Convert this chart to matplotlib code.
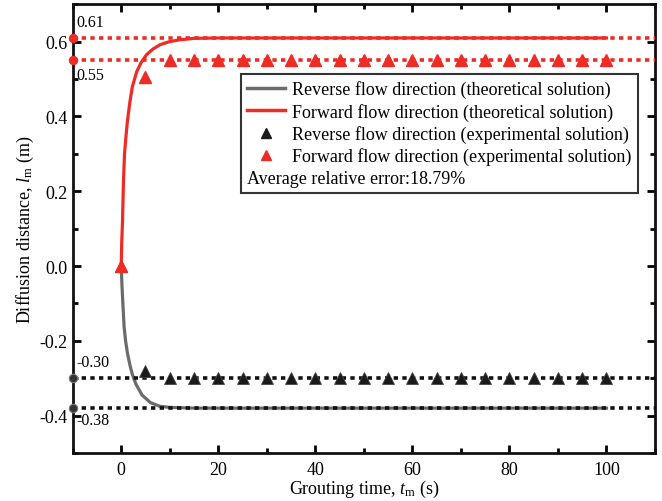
import matplotlib
matplotlib.use("Agg")
import matplotlib.pyplot as plt
from matplotlib.lines import Line2D
from matplotlib.ticker import MultipleLocator, FormatStrFormatter

plt.rcParams['font.family'] = ['Liberation Serif', 'DejaVu Serif']
plt.rcParams['mathtext.fontset'] = 'custom'
plt.rcParams['mathtext.rm'] = 'Liberation Serif'
plt.rcParams['mathtext.it'] = 'Liberation Serif:italic'
plt.rcParams['axes.unicode_minus'] = False

# ---- data ----
t_forward_theory = [0, 0.1, 0.27, 0.45, 0.68, 1.0, 1.3, 1.8, 2.3, 3.2, 4.1, 5.2, 6.5, 8.0, 9.9, 12, 15, 20, 30, 50, 100]
l_forward_theory = [0, 0.06, 0.12, 0.22, 0.30, 0.35, 0.39, 0.44, 0.48, 0.52, 0.544, 0.565, 0.58, 0.592, 0.60, 0.605, 0.609, 0.61, 0.61, 0.61, 0.61]

t_reverse_theory = [0, 0.15, 0.3, 0.6, 0.9, 1.3, 1.8, 2.3, 3.0, 4.3, 6.0, 7.9, 10, 15, 20, 50, 100]
l_reverse_theory = [0, -0.05, -0.09, -0.163, -0.20, -0.234, -0.265, -0.29, -0.315, -0.345, -0.365, -0.375, -0.378, -0.38, -0.38, -0.38, -0.38]

t_exp = [0, 5, 10, 15, 20, 25, 30, 35, 40, 45, 50, 55, 60, 65, 70, 75, 80, 85, 90, 95, 100]
l_forward_exp = [0.0, 0.505, 0.55, 0.55, 0.55, 0.55, 0.55, 0.55, 0.55, 0.55, 0.55,
                 0.55, 0.55, 0.55, 0.55, 0.55, 0.55, 0.55, 0.55, 0.55, 0.55]
l_reverse_exp = [0.0, -0.28, -0.30, -0.30, -0.30, -0.30, -0.30, -0.30, -0.30, -0.30, -0.30,
                 -0.30, -0.30, -0.30, -0.30, -0.30, -0.30, -0.30, -0.30, -0.30, -0.30]

ref_values = [0.61, 0.55, -0.30, -0.38]
ref_labels = ['0.61', '0.55', '-0.30', '-0.38']
ref_colors = ['#ee2b24', '#ee2b24', '#111111', '#111111']
ref_marker_colors = ['#ee2b24', '#ee2b24', '#333333', '#333333']
ref_marker_edges = ['#ee2b24', '#ee2b24', '#777777', '#777777']
ref_label_dy = [6, -5, 6, -2.5]

legend_labels = ['Reverse flow direction (theoretical solution)',
                 'Forward flow direction (theoretical solution)',
                 'Reverse flow direction (experimental solution)',
                 'Forward flow direction (experimental solution)',
                 'Average relative error:18.79%']

RED = '#ee2b24'
GRAY = '#6b6b6b'
BLACK = '#1a1a1a'

fig = plt.figure(figsize=(6.62, 5.02), dpi=100)
ax = fig.add_axes([0.1098, 0.0956, 0.8796, 0.8938])

xmin, xmax = -10, 110
ax.set_xlim(xmin, xmax)
ax.set_ylim(-0.5, 0.7)

# theoretical reverse curve (below dotted lines)
ax.plot(t_reverse_theory, l_reverse_theory, color=GRAY, lw=2.3, zorder=2)

# dotted reference lines
for v, c, mc, me in zip(ref_values, ref_colors, ref_marker_colors, ref_marker_edges):
    ax.plot([xmin, xmax], [v, v], color=c, lw=2.6, linestyle=(0, (1.2, 1.2)),
            dash_capstyle='butt', zorder=3)
    ax.plot([xmin], [v], marker='o', ms=6, color=mc, mec=me, mew=0.8,
            clip_on=False, zorder=6)

# annotations
for v, lab, dy in zip(ref_values, ref_labels, ref_label_dy):
    ax.annotate(lab, xy=(xmin, v), xytext=(2.5, dy), textcoords='offset points',
                ha='left', va='bottom' if dy > 0 else 'top', fontsize=11.5)

# theoretical forward curve (above dotted lines)
ax.plot(t_forward_theory, l_forward_theory, color=RED, lw=2.3, zorder=4)

# experimental points
ax.plot(t_exp, l_reverse_exp, linestyle='none', marker='^', ms=9, color=BLACK,
        mec='#444444', mew=0.6, zorder=5)
ax.plot(t_exp, l_forward_exp, linestyle='none', marker='^', ms=9, color=RED,
        mec=RED, zorder=5)

# ticks
ax.xaxis.set_major_locator(MultipleLocator(20))
ax.xaxis.set_minor_locator(MultipleLocator(10))
ax.yaxis.set_major_locator(MultipleLocator(0.2))
ax.yaxis.set_minor_locator(MultipleLocator(0.1))
ax.yaxis.set_major_formatter(FormatStrFormatter('%.1f'))
ax.tick_params(which='both', direction='in', top=True, right=True, width=2)
ax.tick_params(which='major', length=6, labelsize=13)
ax.tick_params(which='minor', length=3.5)
ax.tick_params(axis='x', which='major', pad=6)
ax.tick_params(axis='y', which='major', pad=4)
for s in ax.spines.values():
    s.set_linewidth(2)
    s.set_color('#111111')

ax.set_xlabel('Grouting time, $t_\\mathrm{m}$ (s)', fontsize=13, labelpad=0)
ax.set_ylabel('Diffusion distance, $l_\\mathrm{m}$ (m)', fontsize=13, labelpad=2)

# legend
handles = [Line2D([], [], color=GRAY, lw=2.5),
           Line2D([], [], color=RED, lw=2.5),
           Line2D([], [], linestyle='none', marker='^', ms=6.5, color=BLACK),
           Line2D([], [], linestyle='none', marker='^', ms=6.5, color=RED),
           Line2D([], [], linestyle='none')]
leg = ax.legend(handles, legend_labels, loc='upper right', bbox_to_anchor=(0.971, 0.845),
                fontsize=13, frameon=True, fancybox=False, edgecolor='#333333',
                framealpha=1, borderpad=0.35, labelspacing=0.25, handlelength=2.1,
                handletextpad=0.4, borderaxespad=0)
leg.get_frame().set_linewidth(1.5)
leg.set_zorder(10)
try:
    col = leg._legend_handle_box.get_children()[0]
    last = col.get_children()[4]
    last.get_children()[0].width = 0
    last.sep = 0
except Exception:
    pass

fig.savefig('out.png', dpi=100)
